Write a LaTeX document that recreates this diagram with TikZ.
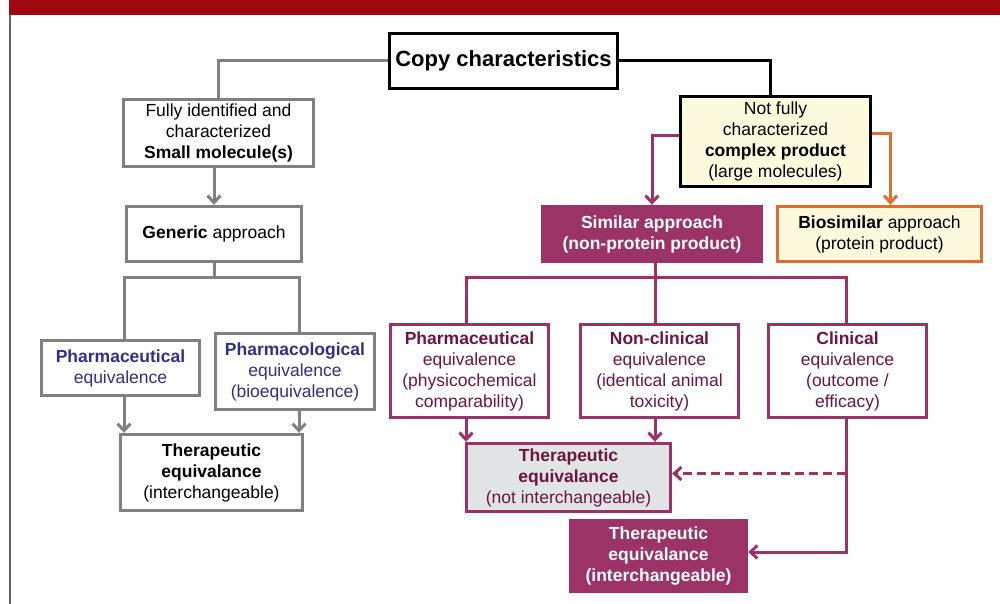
\documentclass[tikz,border=0pt]{standalone}
\usepackage{fontspec}
\setmainfont{Liberation Sans}
\usepackage{xcolor}
\usetikzlibrary{arrows.meta}
\definecolor{barred}{RGB}{160,8,16}
\definecolor{plum}{RGB}{155,51,102}
\definecolor{plumtext}{RGB}{110,20,62}
\definecolor{navytext}{RGB}{48,48,135}
\definecolor{linegray}{RGB}{128,128,128}
\definecolor{framegray}{RGB}{100,100,100}
\definecolor{rust}{RGB}{222,112,45}
\definecolor{cream}{RGB}{252,250,220}
\definecolor{boxgray}{RGB}{226,229,229}
\tikzset{>={Straight Barb[length=7pt,width=13pt]}}

\begin{document}
\begin{tikzpicture}[x=1pt, y=-1pt, every node/.style={rectangle, align=center, inner sep=0pt, font=\fontsize{17.5}{21}\selectfont},
    graybox/.style={draw=linegray, line width=3.4pt, fill=white},
    plumbox/.style={draw=plum, line width=3.4pt, text=plumtext},
    plumfill/.style={draw=plum, fill=plum, line width=3.4pt, text=white, font=\bfseries\fontsize{17.5}{21}\selectfont},
    gline/.style={draw=linegray, line width=3pt},
    pline/.style={draw=plum, line width=3pt}]
    \useasboundingbox (0,0) rectangle (1000,604);
    % Frame
    \fill[barred] (9,0) rectangle (1000,15.3);
    \draw[framegray, line width=2pt] (10,15) -- (10,604);

    % Nodes
    \node[draw, line width=3.4pt, minimum width=228pt, minimum height=55pt, font=\bfseries\fontsize{22}{26}\selectfont] (COPY) at (503.5,61) {Copy characteristics};
    \node[graybox, minimum width=190pt, minimum height=67pt] (SMALL) at (218.5,133) {Fully identified and\\characterized\\\textbf{Small molecule(s)}};
    \node[graybox, minimum width=175pt, minimum height=55pt] (GENERIC) at (214,234) {\textbf{Generic} approach};
    \node[graybox, text=navytext, minimum width=158pt, minimum height=55pt] (PHARM) at (120.5,368) {\textbf{Pharmaceutical}\\equivalence};
    \node[graybox, text=navytext, minimum width=159pt, minimum height=76pt] (PHARMACO) at (295,371.5) {\textbf{Pharmacological}\\equivalence\\(bioequivalence)};
    \node[graybox, minimum width=182pt, minimum height=76pt] (THER) at (211.5,472.5) {\textbf{Therapeutic}\\\textbf{equivalance}\\(interchangeable)};

    \node[draw, line width=3.4pt, fill=cream, minimum width=190pt, minimum height=90pt] (COMPLEX) at (775.5,141.5) {Not fully\\characterized\\\textbf{complex product}\\(large molecules)};
    \node[plumfill, minimum width=219pt, minimum height=55pt] (SIMILAR) at (652,234) {Similar approach\\(non-protein product)};
    \node[draw=rust, line width=3.4pt, fill=cream, minimum width=204pt, minimum height=55pt] (BIOSIM) at (879.5,234) {\textbf{Biosimilar} approach\\(protein product)};
    \node[plumbox, minimum width=158pt, minimum height=93pt] (PHARMR) at (469.5,371) {\textbf{Pharmaceutical}\\equivalence\\(physicochemical\\comparability)};
    \node[plumbox, minimum width=158pt, minimum height=93pt] (NONCLIN) at (659.5,371) {\textbf{Non-clinical}\\equivalence\\(identical animal\\toxicity)};
    \node[plumbox, minimum width=158pt, minimum height=93pt] (CLIN) at (847.5,371) {\textbf{Clinical}\\equivalence\\(outcome /\\efficacy)};
    \node[plumbox, fill=boxgray, minimum width=204pt, minimum height=68pt] (THERNI) at (568.5,477.5) {\textbf{Therapeutic}\\\textbf{equivalance}\\(not interchangeable)};
    \node[plumfill, minimum width=176pt, minimum height=71pt] (THERI) at (658.5,556) {Therapeutic\\equivalance\\(interchangeable)};

    % Branch points
    \coordinate (GL) at (124,277);
    \coordinate (GR) at (299,277);
    \coordinate (RL) at (466,277);
    \coordinate (RM) at (655,277);
    \coordinate (RR) at (846,277);
    \coordinate (DASH) at ([yshift=4pt]THERNI.east);

    % Arrows
    \draw[gline] (COPY.west) -| (SMALL.north);
    \draw[line width=3pt] (COPY.east) -| ([xshift=-5.5pt]COMPLEX.north);
    \draw[gline, ->] (SMALL.south -| GENERIC) -- (GENERIC.north);
    \draw[gline] (GENERIC.south) -- (GENERIC.south |- GL);
    \draw[gline] (PHARM.north -| GL) -- (GL) -- (GR) -- (PHARMACO.north -| GR);
    \draw[gline, ->] (PHARM.south -| GL) -- (THER.north -| GL);
    \draw[gline, ->] (PHARMACO.south -| GR) -- (THER.north -| GR);

    \draw[pline, ->] ([yshift=6pt]COMPLEX.west) -| (SIMILAR.north);
    \draw[draw=rust, line width=3pt, ->] ([yshift=8pt]COMPLEX.east) -| ([xshift=11pt]BIOSIM.north);
    \draw[pline] (SIMILAR.south -| RM) -- (RM);
    \draw[pline] (PHARMR.north -| RL) -- (RL) -- (RR) -- (CLIN.north -| RR);
    \draw[pline] (RM) -- (NONCLIN.north -| RM);
    \draw[pline, ->] (PHARMR.south -| RL) -- (THERNI.north -| RL);
    \draw[pline, ->] (NONCLIN.south -| RM) -- (THERNI.north -| RM);
    \draw[pline, ->] (CLIN.south -| RR) |- ([yshift=4pt]THERI.east);
    \draw[pline, ->, dash pattern=on 9pt off 5pt] (RR |- DASH) -- (DASH);
\end{tikzpicture}
\end{document}
